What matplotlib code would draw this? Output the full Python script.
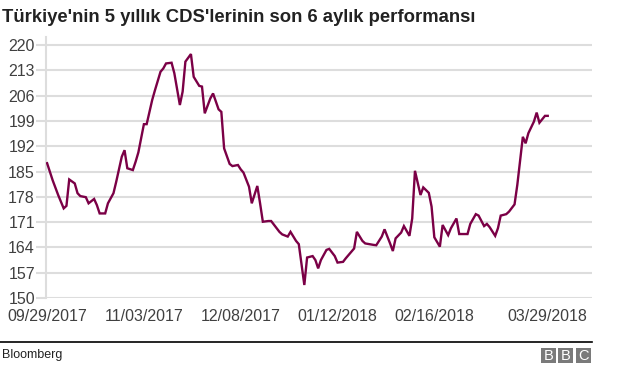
import matplotlib
matplotlib.use('Agg')
import matplotlib.pyplot as plt
from matplotlib.patches import Rectangle
import pandas as pd

# days after 29 Sep 2017 and the CDS level on that day
start = '2017-09-29'
days = [0, 2, 4, 6, 7, 8, 10, 11, 12, 14, 15, 17, 18, 19, 21, 22, 24, 25, 27, 28,
        29, 31, 32, 33, 35, 36, 38, 39, 41, 42, 43, 45, 46, 48, 49, 50, 52, 53, 55, 56,
        57, 59, 60, 62, 63, 64, 66, 67, 69, 70, 71, 73, 74, 76, 77, 78, 80, 81, 84, 85,
        87, 88, 90, 91, 93, 94, 96, 97, 98, 99, 101, 102, 104, 105, 107, 108, 110, 111, 112, 114,
        115, 118, 119, 121, 122, 124, 125, 126, 128, 129, 131, 132, 133, 135, 136, 138, 139, 140, 142, 143,
        145, 146, 148, 149, 152, 153, 155, 156, 158, 159, 160, 162, 163, 164, 166, 167, 169, 170, 172, 173,
        174, 176, 177, 178, 180, 181]
cds = [187.3, 182.6, 178.5, 174.8, 175.5, 182.8, 181.7, 179.0, 178.2, 177.9,
       176.2, 177.4, 175.7, 173.4, 173.4, 176.2, 179.0, 182.2, 189.1, 190.9,
       185.9, 185.4, 187.7, 190.3, 198.1, 198.1, 204.8, 207.5, 212.6, 213.5,
       214.9, 215.1, 212.2, 203.4, 207.1, 215.4, 217.5, 211.2, 208.7, 208.5,
       201.1, 205.2, 206.6, 202.2, 201.5, 191.4, 187.1, 186.5, 186.8, 185.6,
       184.7, 180.8, 176.2, 181.0, 176.2, 171.1, 171.3, 171.3, 168.3, 167.6,
       167.0, 168.3, 165.8, 164.9, 153.6, 161.2, 161.6, 160.5, 158.2, 160.5,
       163.3, 163.6, 161.6, 159.8, 160.0, 161.0, 162.8, 163.7, 168.3, 165.8,
       165.1, 164.7, 164.6, 167.0, 169.0, 165.1, 163.0, 166.5, 168.1, 169.9,
       167.2, 172.0, 185.2, 178.5, 180.6, 179.1, 175.3, 166.8, 164.2, 170.2,
       167.4, 169.3, 172.0, 167.7, 167.7, 170.5, 173.2, 172.8, 169.9, 170.5,
       169.6, 167.2, 169.3, 172.8, 173.2, 173.9, 175.9, 181.3, 194.6, 192.8,
       195.6, 198.8, 201.3, 198.5, 200.4, 200.4]

tick_days = [0, 35, 70, 105, 140, 181]
yticks = [150, 157, 164, 171, 178, 185, 192, 199, 206, 213, 220]

title = "Türkiye'nin 5 yıllık CDS'lerinin son 6 aylık performansı"
source = 'Bloomberg'

plt.rcParams['font.family'] = ['Liberation Sans', 'DejaVu Sans']

t0 = pd.Timestamp(start)
dates = [t0 + pd.Timedelta(days=d) for d in days]
tick_dates = [t0 + pd.Timedelta(days=d) for d in tick_days]

fig = plt.figure(figsize=(6.24, 3.67), dpi=100)
ax = fig.add_axes([0.0737, 0.188, 0.875, 0.711])

ax.plot(dates, cds, color='#7b0046', lw=1.7, solid_joinstyle='miter', zorder=3)

ax.set_ylim(150, 222.2)
ax.set_xlim(t0 - pd.Timedelta(days=0.4), t0 + pd.Timedelta(days=197))
ax.set_yticks(yticks)
ax.set_yticklabels([str(v) for v in yticks])
ax.set_xticks(tick_dates)
ax.set_xticklabels([d.strftime('%m/%d/%Y') for d in tick_dates])

ax.grid(axis='y', color='#dddddd', lw=1.5, zorder=0)
for s in ['top', 'right', 'bottom']:
    ax.spines[s].set_visible(False)
ax.spines['left'].set_color('#dddddd')
ax.spines['left'].set_linewidth(1.5)
ax.tick_params(axis='y', length=7, width=1.5, color='#dddddd', pad=1,
               labelsize=11.5, labelcolor='#404040')
ax.tick_params(axis='x', length=0, pad=8, labelsize=11.5, labelcolor='#404040')

# title and footer
fig.text(0.003, 1 - 22.5 / 367, title, fontsize=13.3, fontweight='bold', color='#222222',
         ha='left', va='baseline')
fig.add_artist(plt.Line2D([0, 592 / 624], [1 - 342 / 367] * 2, color='black', lw=1.2))
fig.text(0.003, 1 - 355 / 367, source, fontsize=9, color='#222222', ha='left', va='center')

# BBC blocks
for i, letter in enumerate('BBC'):
    x0 = (541 + i * 17.3) / 624
    fig.add_artist(Rectangle((x0, 1 - 363 / 367), 15 / 624, 15 / 367,
                             transform=fig.transFigure, color='#7a7a7a', lw=0))
    fig.text(x0 + 7.5 / 624, 1 - 355.5 / 367, letter, color='white', fontsize=10.5,
             ha='center', va='center')

fig.savefig('out.png', dpi=100)
